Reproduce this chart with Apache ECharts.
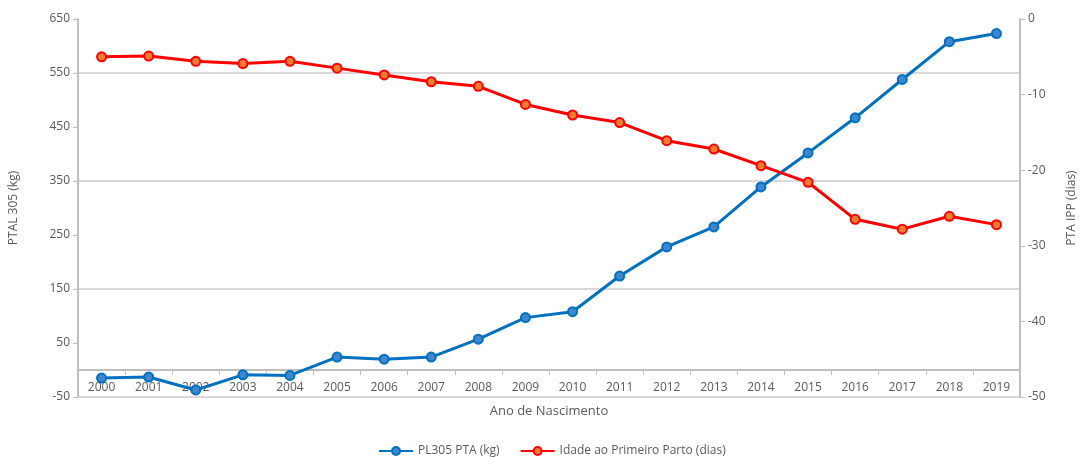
<!DOCTYPE html>
<html>
<head>
<meta charset="utf-8">
<script src="https://cdn.jsdelivr.net/npm/echarts@6/dist/echarts.min.js"></script>
<style>
html, body { margin: 0; padding: 0; background: #fff; }
#chart { width: 1086px; height: 457px; }
</style>
</head>
<body>
<div id="chart"></div>
<script>
var anos = ['2000', '2001', '2002', '2003', '2004', '2005', '2006', '2007', '2008', '2009',
            '2010', '2011', '2012', '2013', '2014', '2015', '2016', '2017', '2018', '2019'];
var pl305 = [-15, -13, -37, -9, -10, 24, 20, 24, 57, 97,
             108, 174, 228, 265, 339, 402, 467, 538, 608, 623];
var ipp = [-5.0, -4.9, -5.6, -5.9, -5.6, -6.5, -7.4, -8.3, -8.9, -11.3,
           -12.7, -13.7, -16.1, -17.2, -19.4, -21.6, -26.5, -27.8, -26.1, -27.2];
var ticksEsq = [-50, 50, 150, 250, 350, 450, 550, 650];

var cinza = '#595959';
var fonte = "'Open Sans', sans-serif";

// grid: top 19, bottom 60 -> 378px high for 700 units; the x axis sits on 0
var gridTop = 19, gridBottom = 60, alturaGrid = 457 - gridTop - gridBottom;
var yMin = -50, yMax = 650;
var offsetZero = -Math.round(alturaGrid * (0 - yMin) / (yMax - yMin));

var myChart = echarts.init(document.getElementById('chart'));
var option = {
    animation: false,
    textStyle: { fontFamily: fonte },
    grid: { left: 73, right: 55, top: gridTop, bottom: gridBottom },
    legend: {
        bottom: -5,
        left: 373,
        itemWidth: 34,
        itemHeight: 10,
        itemGap: 20,
        textStyle: { color: cinza, fontSize: 12, fontFamily: fonte },
        data: ['PL305 PTA (kg)', 'Idade ao Primeiro Parto (dias)']
    },
    xAxis: {
        type: 'category',
        data: anos,
        boundaryGap: true,
        offset: offsetZero,
        name: 'Ano de Nascimento',
        nameLocation: 'middle',
        nameGap: 35,
        nameTextStyle: { color: cinza, fontSize: 13 },
        axisLine: { onZero: false, lineStyle: { color: '#bfbfbf', width: 2 } },
        axisTick: { show: true, interval: 0, length: 5, lineStyle: { color: '#bfbfbf' } },
        axisLabel: { color: cinza, fontSize: 12, margin: 12, interval: 0 }
    },
    yAxis: [
        {
            type: 'value',
            min: yMin,
            max: yMax,
            interval: 50,
            name: 'PTAL 305 (kg)',
            nameLocation: 'middle',
            nameRotate: 90,
            nameGap: 58,
            nameTextStyle: { color: cinza, fontSize: 12 },
            axisLine: { show: true, lineStyle: { color: '#bfbfbf', width: 2 } },
            axisTick: { show: true, length: 5, customValues: ticksEsq, lineStyle: { color: '#bfbfbf' } },
            axisLabel: { color: cinza, fontSize: 12, customValues: ticksEsq },
            splitLine: { show: true, lineStyle: { color: ['#d9d9d9', 'rgba(0,0,0,0)'], width: 2 } }
        },
        {
            type: 'value',
            position: 'right',
            min: -50,
            max: 0,
            interval: 10,
            name: 'PTA IPP (dias)',
            nameLocation: 'middle',
            nameRotate: 90,
            nameGap: 46,
            nameTextStyle: { color: cinza, fontSize: 12 },
            axisLine: { show: true, lineStyle: { color: '#bfbfbf', width: 2 } },
            axisTick: { show: true, length: 5, lineStyle: { color: '#bfbfbf' } },
            axisLabel: { color: cinza, fontSize: 12 },
            splitLine: { show: false }
        }
    ],
    series: [
        {
            name: 'PL305 PTA (kg)',
            type: 'line',
            yAxisIndex: 0,
            data: pl305,
            symbol: 'circle',
            symbolSize: 9,
            lineStyle: { color: '#0070c0', width: 3 },
            itemStyle: { color: '#3f87cc', borderColor: '#0070c0', borderWidth: 2 }
        },
        {
            name: 'Idade ao Primeiro Parto (dias)',
            type: 'line',
            yAxisIndex: 1,
            data: ipp,
            symbol: 'circle',
            symbolSize: 9,
            lineStyle: { color: '#ff0000', width: 3 },
            itemStyle: { color: '#ed7d31', borderColor: '#ff0000', borderWidth: 2 }
        }
    ]
};
myChart.setOption(option);
</script>
</body>
</html>
